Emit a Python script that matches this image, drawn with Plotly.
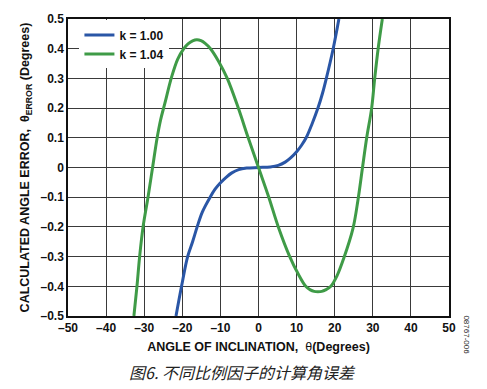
import plotly.graph_objects as go

# Data
theta_k100 = [-21.65, -20.2, -18.6, -17.3, -16.1, -14.75, -12.7, -11.4, -10.1, -8.5, -7.0, -5.2, -3.1, 0.0,
              3.1, 5.2, 7.0, 8.5, 10.0, 11.3, 12.5, 14.0, 15.6, 16.8, 17.8, 19.6, 21.1]
err_k100 = [-0.50, -0.40, -0.30, -0.25, -0.20, -0.15, -0.10, -0.073, -0.053, -0.033, -0.018, -0.007, -0.002, 0.0,
            0.002, 0.007, 0.018, 0.033, 0.053, 0.075, 0.10, 0.145, 0.20, 0.25, 0.30, 0.40, 0.50]

theta_k104 = [-32.7, -31.9, -31.2, -30.3, -29.0, -27.8, -26.6, -25.7, -24.6, -22.8, -21.2, -19.6, -18.5, -17.3, -16.2,
              -15.1, -14.0, -12.6, -10.5, -8.2, -5.3, -2.7, 0.0, 2.7, 5.2, 8.2, 10.4, 12.4, 13.6, 14.6, 15.6, 16.6,
              17.6, 19.0, 20.6, 22.4, 24.8, 26.1, 27.3, 28.4, 29.7, 30.5, 31.4, 32.5]
err_k104 = [-0.50, -0.40, -0.30, -0.20, -0.10, 0.0, 0.10, 0.16, 0.215, 0.305, 0.365, 0.40, 0.416, 0.426, 0.43,
            0.427, 0.418, 0.40, 0.358, 0.30, 0.20, 0.10, 0.0, -0.10, -0.20, -0.30, -0.358, -0.40, -0.412, -0.417,
            -0.418, -0.417, -0.412, -0.40, -0.365, -0.305, -0.205, -0.11, 0.0, 0.10, 0.20, 0.30, 0.40, 0.50]

x_ticks = [-50, -40, -30, -20, -10, 0, 10, 20, 30, 40, 50]
x_ticktext = ["–50", "–40", "–30", "–20", "–10", "0", "10", "20", "30", "40", "50"]
y_ticks = [0.5, 0.4, 0.3, 0.2, 0.1, 0, -0.1, -0.2, -0.3, -0.4, -0.5]
y_ticktext = ["0.5", "0.4", "0.3", "0.2", "0.1", "0", "–0.1", "–0.2", "–0.3", "–0.4", "–0.5"]

FONT = "Liberation Sans, Arial, sans-serif"

fig = go.Figure()
fig.add_trace(go.Scatter(x=theta_k100, y=err_k100, mode="lines", name="<b>k = 1.00</b>",
                         line=dict(color="#2a56a6", width=3, shape="spline", smoothing=1.0)))
fig.add_trace(go.Scatter(x=theta_k104, y=err_k104, mode="lines", name="<b>k = 1.04</b>",
                         line=dict(color="#3f9b47", width=3, shape="spline", smoothing=1.0)))

axis_common = dict(showgrid=True, gridcolor="#3a3a3a", gridwidth=1, zeroline=False,
                   showline=True, linecolor="#111", linewidth=1.5, mirror=True, ticks="",
                   tickfont=dict(family=FONT, size=12, color="#111"))

fig.update_xaxes(range=[-50, 50], tickvals=x_ticks, ticktext=["<b>%s</b>" % t for t in x_ticktext],
                 title=dict(text="<b>ANGLE OF INCLINATION,  </b>θ<b>(Degrees)</b>",
                            font=dict(family=FONT, size=12.5, color="#111"), standoff=8),
                 **axis_common)
fig.update_yaxes(range=[-0.5, 0.5], tickvals=y_ticks, ticktext=["<b>%s</b>" % t for t in y_ticktext],
                 title=dict(text="<b>CALCULATED ANGLE ERROR,  θ<sub>ERROR</sub> (Degrees)</b>",
                            font=dict(family=FONT, size=12.5, color="#111"), standoff=8),
                 **axis_common)

fig.update_layout(
    width=487, height=389,
    margin=dict(l=68, r=38, t=12, b=73),
    paper_bgcolor="white", plot_bgcolor="white",
    showlegend=True,
    legend=dict(x=0.03, y=0.995, xanchor="left", yanchor="top",
                bgcolor="white", borderwidth=0,
                font=dict(family=FONT, size=12, color="#111"),
                itemwidth=30, tracegroupgap=0),
    annotations=[
        dict(text="<i>图6. 不同比例因子的计算角误差</i>", xref="paper", yref="paper",
             x=0.457, y=-0.19, xanchor="center", yanchor="middle", showarrow=False,
             font=dict(family="Noto Sans CJK SC", size=16, color="#222")),
        dict(text="08767-006", xref="paper", yref="paper", x=1.045, y=-0.0625,
             xanchor="center", yanchor="middle", showarrow=False, textangle=90,
             font=dict(family=FONT, size=8, color="#222")),
    ],
)

fig.write_html("out.html", config={"displayModeBar": False},
               post_script="document.body.style.margin='0';document.body.style.overflow='hidden';")
